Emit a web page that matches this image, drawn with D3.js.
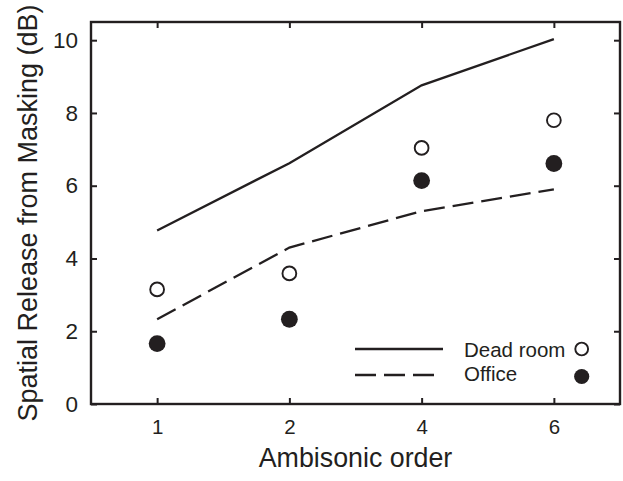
<!DOCTYPE html>
<html>
<head>
<meta charset="utf-8">
<script src="https://cdn.jsdelivr.net/npm/d3@7"></script>
<style>
  html, body { margin: 0; padding: 0; background: #fff; }
  svg { display: block; font-family: "Liberation Sans", Arial, sans-serif; }
</style>
</head>
<body>
<svg id="chart" width="623" height="481"></svg>
<script>
// Ambisonic orders tested
const orders = ["1", "2", "4", "6"];
// Model predictions (lines)
const deadRoomModel = [4.77, 6.62, 8.76, 10.03];
const officeModel = [2.33, 4.3, 5.3, 5.9];
// Measured values (markers)
const deadRoomMeasured = [3.15, 3.59, 7.04, 7.8];
const officeMeasured = [1.66, 2.33, 6.14, 6.61];
const yTicks = [0, 2, 4, 6, 8, 10];

const ink = "#231f20";
const svg = d3.select("#chart");
const m = { left: 91, right: 620, top: 22, bottom: 404 };

const x = d3.scalePoint().domain(orders).range([m.left, m.right]).padding(0.5);
const y = d3.scaleLinear().domain([0, 10.5]).range([m.bottom, m.top]);

// Frame
svg.append("rect")
  .attr("x", m.left).attr("y", m.top)
  .attr("width", m.right - m.left).attr("height", m.bottom - m.top)
  .attr("fill", "none").attr("stroke", ink).attr("stroke-width", 2.4);

// Axes with inward ticks
const bottomAxis = svg.append("g").attr("transform", `translate(0,${m.bottom})`)
  .call(d3.axisBottom(x).tickSize(-6).tickPadding(15));
const topAxis = svg.append("g").attr("transform", `translate(0,${m.top})`)
  .call(d3.axisTop(x).tickSize(-6).tickFormat(""));
const leftAxis = svg.append("g").attr("transform", `translate(${m.left},0)`)
  .call(d3.axisLeft(y).tickValues(yTicks).tickSize(-6).tickPadding(13));
const rightAxis = svg.append("g").attr("transform", `translate(${m.right},0)`)
  .call(d3.axisRight(y).tickValues(yTicks).tickSize(-6).tickFormat(""));

[[bottomAxis, 20.5], [topAxis, 20], [leftAxis, 22.5], [rightAxis, 20]].forEach(([g, fs]) => {
  g.select(".domain").remove();
  g.selectAll(".tick line").attr("stroke", ink).attr("stroke-width", 2);
  g.selectAll(".tick text")
    .attr("fill", ink)
    .attr("font-size", fs)
    .attr("font-family", "Liberation Sans, Arial, sans-serif");
});

// Lines
const line = d3.line().x((d, i) => x(orders[i])).y(d => y(d));
svg.append("path").datum(deadRoomModel)
  .attr("d", line).attr("fill", "none")
  .attr("stroke", ink).attr("stroke-width", 2.3);
svg.append("path").datum(officeModel)
  .attr("d", line).attr("fill", "none")
  .attr("stroke", ink).attr("stroke-width", 2.3)
  .attr("stroke-dasharray", "21,8");

// Markers
svg.selectAll("circle.dead").data(deadRoomMeasured).enter().append("circle")
  .attr("class", "dead")
  .attr("cx", (d, i) => x(orders[i])).attr("cy", d => y(d))
  .attr("r", 6.9).attr("fill", "#fff").attr("stroke", ink).attr("stroke-width", 1.9);
svg.selectAll("circle.office").data(officeMeasured).enter().append("circle")
  .attr("class", "office")
  .attr("cx", (d, i) => x(orders[i])).attr("cy", d => y(d))
  .attr("r", 8.4).attr("fill", ink);

// Legend
const lg = svg.append("g");
lg.append("line").attr("x1", 355).attr("x2", 443).attr("y1", 349).attr("y2", 349)
  .attr("stroke", ink).attr("stroke-width", 2.3);
lg.append("line").attr("x1", 355).attr("x2", 435).attr("y1", 375).attr("y2", 375)
  .attr("stroke", ink).attr("stroke-width", 2.3).attr("stroke-dasharray", "21,8");
lg.append("text").attr("x", 464).attr("y", 356.5).attr("font-size", 20.5).attr("fill", ink).text("Dead room");
lg.append("text").attr("x", 464).attr("y", 381).attr("font-size", 20.5).attr("fill", ink).text("Office");
lg.append("circle").attr("cx", 581.7).attr("cy", 349).attr("r", 6.4)
  .attr("fill", "#fff").attr("stroke", ink).attr("stroke-width", 1.9);
lg.append("circle").attr("cx", 581.7).attr("cy", 376.5).attr("r", 7.6).attr("fill", ink);

// Axis titles
svg.append("text")
  .attr("x", (m.left + m.right) / 2).attr("y", 467)
  .attr("text-anchor", "middle").attr("font-size", 26.8).attr("fill", ink)
  .text("Ambisonic order");
svg.append("text")
  .attr("transform", `translate(37,${(m.top + m.bottom) / 2}) rotate(-90)`)
  .attr("text-anchor", "middle").attr("font-size", 27).attr("fill", ink)
  .text("Spatial Release from Masking (dB)");
</script>
</body>
</html>
